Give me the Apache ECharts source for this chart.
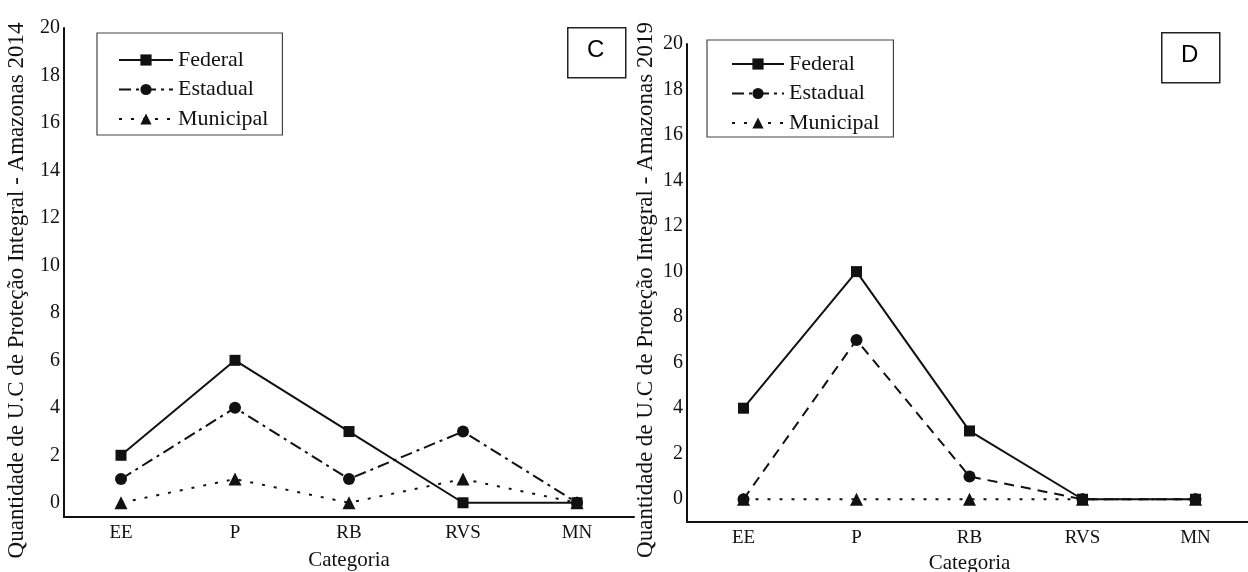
<!DOCTYPE html>
<html>
<head>
<meta charset="utf-8">
<script src="https://cdn.jsdelivr.net/npm/echarts@6/dist/echarts.min.js"></script>
<style>
html,body{margin:0;padding:0;background:#fff;}
#chart{width:1248px;height:572px;}
</style>
</head>
<body>
<div id="chart"></div>
<script>
const categories = ['EE', 'P', 'RB', 'RVS', 'MN'];
const yTicks = [0, 2, 4, 6, 8, 10, 12, 14, 16, 18, 20];

// Panel C — 2014
const federal2014 = [2, 6, 3, 0, 0];
const estadual2014 = [1, 4, 1, 3, 0];
const municipal2014 = [0, 1, 0, 1, 0];

// Panel D — 2019
const federal2019 = [4, 10, 3, 0, 0];
const estadual2019 = [0, 7, 1, 0, 0];
const municipal2019 = [0, 0, 0, 0, 0];

const seriesNames = ['Federal', 'Estadual', 'Municipal'];
const yTitle2014 = 'Quantidade de U.C de Proteção Integral - Amazonas 2014';
const yTitle2019 = 'Quantidade de U.C de Proteção Integral - Amazonas 2019';
const xTitle = 'Categoria';

const SERIF = '"Liberation Serif", "Times New Roman", serif';
const INK = '#111';

function xAxisCfg(gridIndex, nameGap) {
  return {
    type: 'category', gridIndex, data: categories, boundaryGap: true,
    axisLine: {show: true, onZero: false, lineStyle: {color: INK, width: 2}},
    axisTick: {show: false},
    axisLabel: {color: INK, fontFamily: SERIF, fontSize: 19, margin: 7},
    name: xTitle, nameLocation: 'middle', nameGap,
    nameTextStyle: {color: INK, fontFamily: SERIF, fontSize: 21},
    splitLine: {show: false}
  };
}
function yAxisCfg(gridIndex, min, title, nameGap, shift) {
  return {
    type: 'value', gridIndex, min, max: 20,
    axisLine: {show: true, onZero: false, lineStyle: {color: INK, width: 2}},
    axisTick: {show: false},
    splitLine: {show: false},
    axisLabel: {color: INK, fontFamily: SERIF, fontSize: 20, margin: 4, customValues: yTicks},
    name: title, nameLocation: 'middle', nameGap, nameRotate: 90,
    nameTextStyle: {color: INK, fontFamily: SERIF, fontSize: 23, padding: [0, shift, 0, 0]}
  };
}
function lineSeries(name, data, idx, symbol, size, dash, width) {
  return {
    name, type: 'line', data, xAxisIndex: idx, yAxisIndex: idx,
    symbol, symbolSize: size,
    itemStyle: {color: INK},
    lineStyle: {color: INK, width: width, type: dash},
    emphasis: {disabled: true},
    animation: false
  };
}
function legendCfg(left, top, pad, w) {
  return {
    orient: 'vertical', left, top,
    data: seriesNames,
    backgroundColor: '#fff',
    borderColor: '#444', borderWidth: 1.2,
    padding: pad,
    itemWidth: w, itemHeight: 14, itemGap: 7.5,
    textStyle: {color: INK, fontFamily: SERIF, fontSize: 22, lineHeight: 22},
    selectedMode: false
  };
}

const chart = echarts.init(document.getElementById('chart'), null, {renderer: 'canvas'});
chart.setOption({
  backgroundColor: '#fff',
  animation: false,
  grid: [
    {left: 64, top: 28, width: 570, height: 489, outerBoundsMode: 'none', containLabel: false},
    {left: 687, top: 44, width: 565, height: 478, outerBoundsMode: 'none', containLabel: false}
  ],
  xAxis: [xAxisCfg(0, 33), xAxisCfg(1, 25)],
  yAxis: [yAxisCfg(0, -0.6, yTitle2014, 36, 36), yAxisCfg(1, -1, yTitle2019, 30, 14)],
  legend: [
    legendCfg(97, 33, [16, 14, 5, 21], 54),
    legendCfg(707, 40, [13, 14, 3, 24], 52)
  ],
  series: [
    lineSeries('Municipal', municipal2014, 0, 'triangle', 13, [3, 9], 2),
    lineSeries('Estadual', estadual2014, 0, 'circle', 12, [12, 5, 3, 5], 2),
    lineSeries('Federal', federal2014, 0, 'rect', 11, 'solid', 2),
    lineSeries('Municipal', municipal2019, 1, 'triangle', 13, [3, 9], 2),
    lineSeries('Estadual', estadual2019, 1, 'circle', 12, [10, 7], 2),
    lineSeries('Federal', federal2019, 1, 'rect', 11, 'solid', 2)
  ],
  graphic: [
    {type: 'rect', left: 567, top: 27, shape: {width: 58, height: 50},
     style: {fill: '#fff', stroke: '#222', lineWidth: 1.5}},
    {type: 'text', left: 587, top: 38,
     style: {text: 'C', font: '24px "Liberation Sans", Arial, sans-serif', fill: '#000'}},
    {type: 'rect', left: 1161, top: 32, shape: {width: 58, height: 50},
     style: {fill: '#fff', stroke: '#222', lineWidth: 1.5}},
    {type: 'text', left: 1181, top: 43,
     style: {text: 'D', font: '24px "Liberation Sans", Arial, sans-serif', fill: '#000'}}
  ]
});
</script>
</body>
</html>
